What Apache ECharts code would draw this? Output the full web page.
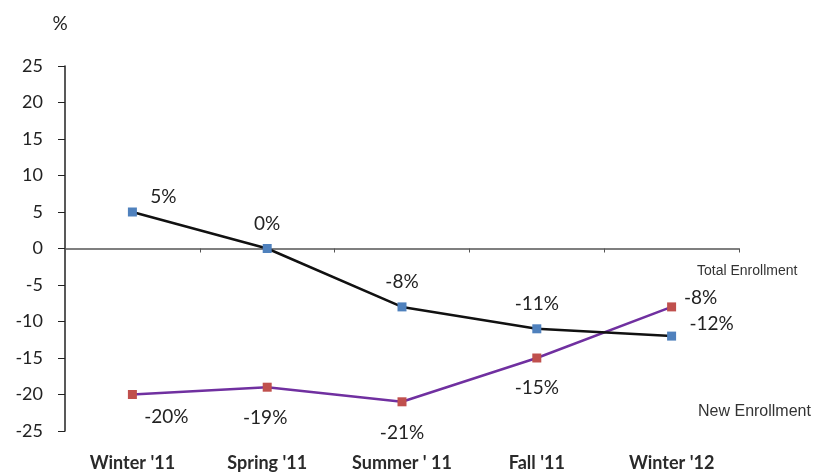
<!DOCTYPE html>
<html>
<head>
<meta charset="utf-8">
<script src="https://cdn.jsdelivr.net/npm/echarts@6/dist/echarts.min.js"></script>
<style>
  html, body { margin: 0; padding: 0; background: #fff; }
  #chart { width: 820px; height: 472px; }
</style>
</head>
<body>
<div id="chart"></div>
<script>
// terms on the x axis
const terms = ["Winter '11", "Spring '11", "Summer ' 11", "Fall '11", "Winter '12"];
// % change vs. same term a year earlier
const totalEnrollment = [5, 0, -8, -11, -12];
const newEnrollment = [-20, -19, -21, -15, -8];
const yTicks = { min: -25, max: 25, step: 5 };

// where each value label sits relative to its point (style only)
const totalLabelOffsets = [[31, -15], [0, -25], [0, -25], [0, -25], [40, -12]];
const newLabelOffsets = [[34, 22], [-2, 31], [0, 31], [0, 30], [29, -9]];

function withLabels(values, offsets) {
  return values.map(function (v, i) {
    return { value: v, label: { offset: offsets[i] } };
  });
}

const chart = echarts.init(document.getElementById("chart"));

const valueLabel = {
  show: true,
  position: "inside",
  formatter: "{c}%",
  color: "#222",
  fontFamily: "Lato",
  fontSize: 19
};

chart.setOption({
  animation: false,
  grid: { left: 65, right: 81, top: 66, bottom: 40 },
  xAxis: [
    {
      type: "category",
      data: terms,
      axisLine: { onZero: true, lineStyle: { color: "#555", width: 1.5 } },
      axisTick: { show: true, length: 4, lineStyle: { color: "#555" } },
      axisLabel: { show: false }
    },
    {
      type: "category",
      data: terms,
      position: "bottom",
      axisLine: { show: false, onZero: false },
      axisTick: { show: false },
      axisLabel: {
        interval: 0,
        margin: 23,
        color: "#2a2a2a",
        fontFamily: "Lato",
        fontWeight: "bold",
        fontSize: 18
      }
    }
  ],
  yAxis: {
    type: "value",
    min: yTicks.min,
    max: yTicks.max,
    interval: yTicks.step,
    name: "%",
    nameLocation: "end",
    nameGap: 33,
    nameTextStyle: { color: "#222", fontFamily: "Lato", fontSize: 19, padding: [0, 10, 0, 0] },
    axisLine: { show: true, lineStyle: { color: "#222", width: 1.5 } },
    axisTick: { show: true, length: 7, lineStyle: { color: "#222" } },
    splitLine: { show: false },
    axisLabel: { margin: 22, color: "#222", fontFamily: "Lato", fontSize: 18 }
  },
  series: [
    {
      name: "Total Enrollment",
      type: "line",
      data: withLabels(totalEnrollment, totalLabelOffsets),
      symbol: "rect",
      symbolSize: 9,
      itemStyle: { color: "#4f81bd" },
      lineStyle: { color: "#111", width: 2.5 },
      label: valueLabel,
      z: 3
    },
    {
      name: "New Enrollment",
      type: "line",
      data: withLabels(newEnrollment, newLabelOffsets),
      symbol: "rect",
      symbolSize: 9,
      itemStyle: { color: "#c0504d" },
      lineStyle: { color: "#7030a0", width: 2.5 },
      label: valueLabel,
      z: 2
    }
  ],
  graphic: [
    {
      type: "text",
      left: 697,
      top: 264,
      style: { text: "Total Enrollment", fill: "#333", font: "14px 'Liberation Sans'" }
    },
    {
      type: "text",
      left: 698,
      top: 404,
      style: { text: "New Enrollment", fill: "#333", font: "16px 'Liberation Sans'" }
    }
  ]
});
</script>
</body>
</html>
